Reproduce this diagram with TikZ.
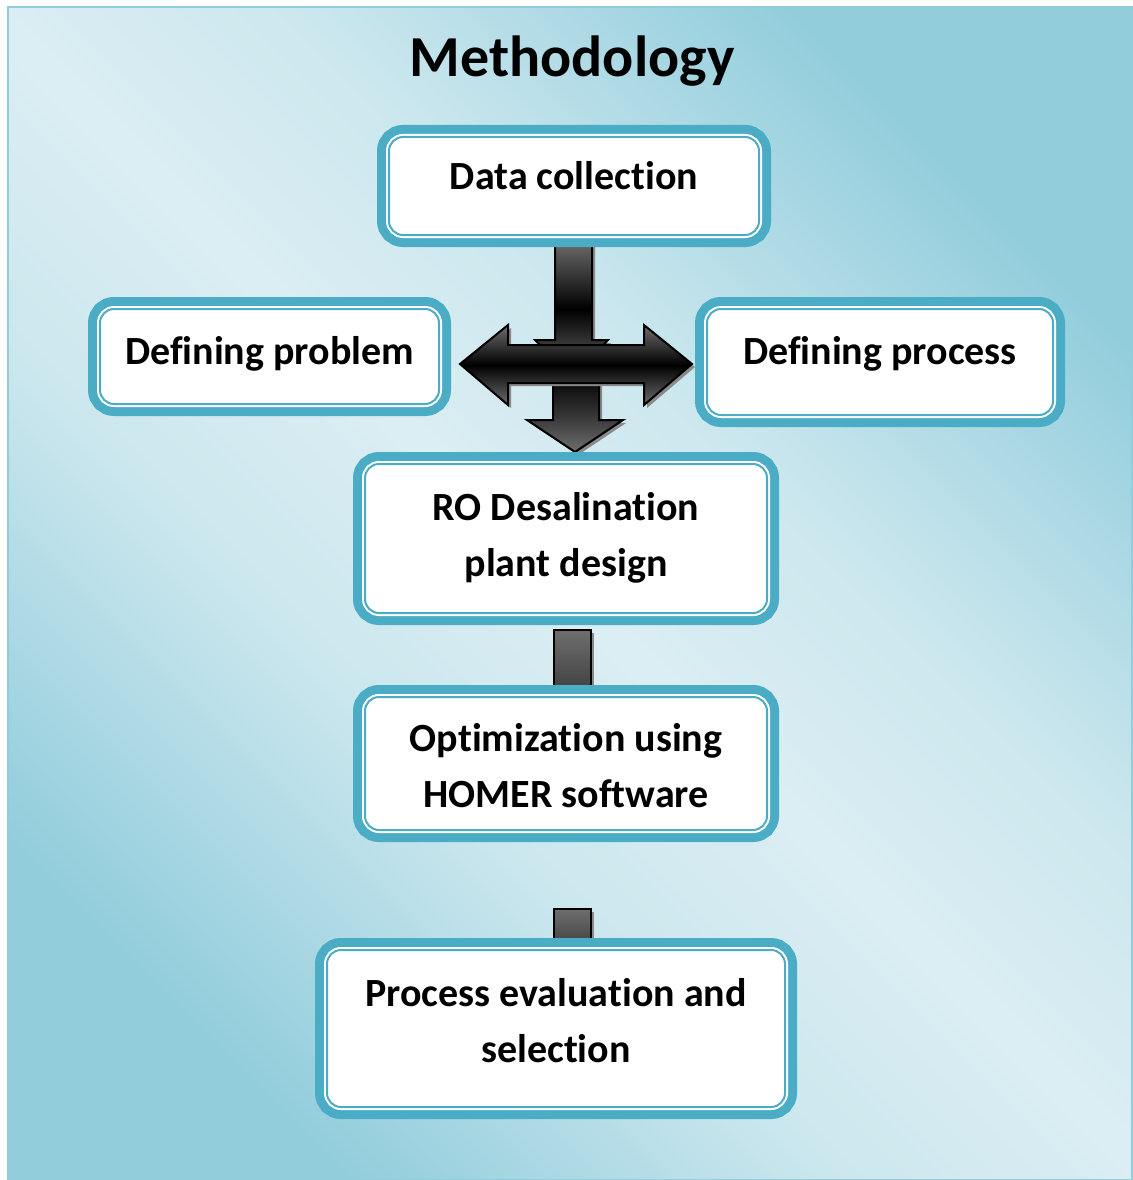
\documentclass[tikz,border=0pt]{standalone}
\usepackage{fontspec}
\setmainfont{Carlito}[Ligatures=CommonOff]
\usetikzlibrary{shadows,backgrounds}

\definecolor{boxteal}{HTML}{4BACC6}
\definecolor{bglight}{HTML}{DBEEF3}
\definecolor{bgdark}{HTML}{92CDDC}
\colorlet{bgmid}{bglight!78!bgdark}
\definecolor{bargray}{HTML}{6E6E6E}
\definecolor{bardark}{HTML}{3C3C3C}
\definecolor{shadowgray}{HTML}{8A8A8A}

\pgfdeclareverticalshading{bgsweep}{100bp}{color(0bp)=(bgdark); color(25bp)=(bgdark);
  color(40bp)=(bgmid); color(50bp)=(bglight); color(60bp)=(bgmid);
  color(75bp)=(bgdark); color(100bp)=(bgdark)}

\newcommand{\boxfont}{\fontsize{40}{56}\selectfont\bfseries}
% invisible strut: height #1, depth #2 (fixes where the text sits in its box)
\newcommand{\textstrut}[2]{\rule[-#2pt]{0pt}{\dimexpr #1pt+#2pt\relax}}

\tikzset{
  stepbox/.style={draw=boxteal, line width=2pt, fill=white, rounded corners=14pt,
    inner sep=0pt, outer sep=0pt, align=center, font=\boxfont,
    preaction={draw=boxteal, line width=24pt},
    preaction={draw=white, line width=6pt}},
  blockarrow/.style={draw=black, line width=2pt, line join=miter,
    top color=bargray, bottom color=bargray, middle color=black,
    drop shadow={shadow xshift=3pt, shadow yshift=-3pt, opacity=1, fill=shadowgray}},
  connbar/.style={draw=black, line width=2pt, top color=bargray, bottom color=bardark,
    drop shadow={shadow xshift=3pt, shadow yshift=-3pt, opacity=1, fill=shadowgray}}
}

\begin{document}
\begin{tikzpicture}[x=1pt, y=-1pt]
\useasboundingbox (0,0) rectangle (1132,1180);

\node[font=\fontsize{58}{60}\selectfont\bfseries, anchor=base] (title) at (572,77) {Methodology};

\node[stepbox, minimum width=370, minimum height=98] (data) at (574,186)
  {\textstrut{30}{24}Data collection};
\node[stepbox, minimum width=339, minimum height=95] (prob) at (269.5,356.5)
  {\textstrut{30}{15}Defining problem};
\node[stepbox, minimum width=346, minimum height=106] (proc) at (880,362)
  {\textstrut{30}{26}Defining process};
\node[stepbox, minimum width=402, minimum height=149] (ro) at (566,538.5)
  {\textstrut{30}{0}RO Desalination\\\textstrut{0}{11}plant design};
\node[stepbox, minimum width=402, minimum height=133] (opt) at (566,763.5)
  {\textstrut{33}{0}Optimization using\\\textstrut{0}{0}HOMER software};
\node[stepbox, minimum width=458, minimum height=157] (eval) at (556,1028.5)
  {\textstrut{30}{0}Process evaluation and\\\textstrut{0}{19}selection};

\begin{scope}[on background layer]
% backdrop
\draw[bgdark, line width=1.5pt, shading=bgsweep, shading angle=-45] (8,7) rectangle (1132,1180);
% cross of block arrows under data collection
\draw[blockarrow, top color=black, middle color=black!80] (553,375) -- (599,375) -- (599,420) -- (623,420) -- (575,452) -- (527,420) -- (553,420) -- cycle;
\draw[blockarrow] (555,240) -- (592,240) -- (592,340) -- (608,340) -- (573.5,378) -- (535,340) -- (555,340) -- cycle;
\draw[blockarrow] (460,364) -- (508,325) -- (508,345) -- (644,345) -- (644,325) -- (692,364)
  -- (644,405) -- (644,383) -- (508,383) -- (508,405) -- cycle;
% short bars between the lower boxes
\draw[connbar] ([xshift=-12pt,yshift=-17pt]ro.south) rectangle ([xshift=25pt]opt.north);
\draw[connbar] ([xshift=-12pt,yshift=-79pt]opt.south) rectangle ([xshift=35pt]eval.north);
\end{scope}
\end{tikzpicture}
\end{document}
